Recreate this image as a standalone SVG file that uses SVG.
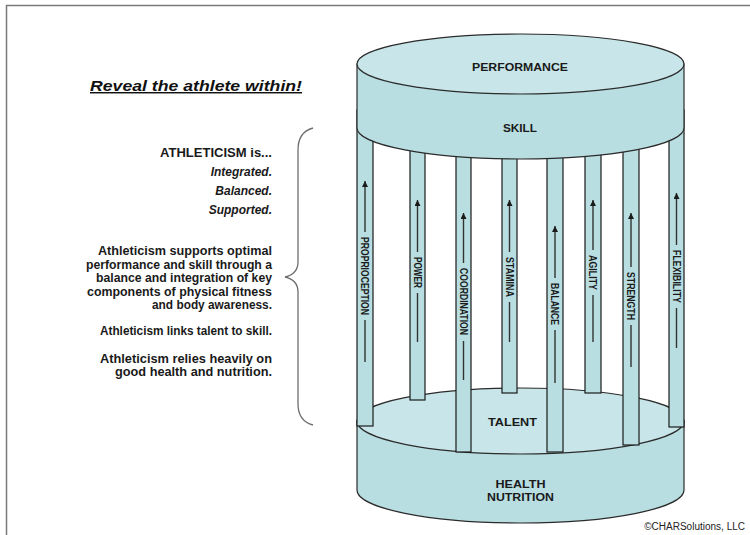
<svg xmlns="http://www.w3.org/2000/svg" width="750" height="535" viewBox="0 0 750 535">
<style>
.side{fill:#b9dee2;stroke:#2b2b2b;stroke-width:1.2}
.top{fill:#c8e6e9;stroke:#2b2b2b;stroke-width:1.2}
.pillar{fill:#b9dee2;stroke:#1a1a1a;stroke-width:1.2}
.lbl{font-family:"Liberation Sans",Arial,sans-serif;font-weight:bold;font-size:11.5px;fill:#1a1a1a;text-anchor:middle}
.plbl{font-family:"Liberation Sans",Arial,sans-serif;font-weight:bold;font-size:10.5px;fill:#1a1a1a;text-anchor:middle;dominant-baseline:central}
.arr{stroke:#333;stroke-width:1.4;fill:none}
.txt{font-family:"Liberation Sans",Arial,sans-serif;font-weight:bold;font-size:12px;fill:#1a1a1a;text-anchor:end}
.it{font-style:italic}
</style>
<defs>
<marker id="ah" viewBox="0 0 10 10" refX="10" refY="5" markerUnits="userSpaceOnUse" markerWidth="8" markerHeight="6" orient="auto">
<path d="M0,0 L10,5 L0,10 z" fill="#1a1a1a"/>
</marker>
</defs>
<rect x="6.5" y="5.5" width="800" height="600" fill="#ffffff" stroke="#7a7a7a" stroke-width="1.5"/>

<g id="base">
<path class="side" d="M357,421 L357,490 A163.5,33 0 0 0 684,490 L684,421 Z"/>
<text class="lbl" x="520.5" y="488" textLength="50" lengthAdjust="spacingAndGlyphs">HEALTH</text>
<text class="lbl" x="520.5" y="501" textLength="67" lengthAdjust="spacingAndGlyphs">NUTRITION</text>
</g>
<g id="talent">
<ellipse class="top" cx="520.5" cy="421" rx="163.5" ry="33"/>
<text class="lbl" x="512.5" y="426" textLength="49" lengthAdjust="spacingAndGlyphs">TALENT</text>
</g>

<g id="pillar-proprioception"><rect class="pillar" x="357" y="110" width="16" height="316"/><text class="plbl" transform="translate(365,276) rotate(90)" textLength="78" lengthAdjust="spacingAndGlyphs">PROPRIOCEPTION</text></g>
<g id="pillar-power"><rect class="pillar" x="410" y="110" width="15" height="290"/><text class="plbl" transform="translate(417.5,272.5) rotate(90)" textLength="31" lengthAdjust="spacingAndGlyphs">POWER</text></g>
<g id="pillar-coordination"><rect class="pillar" x="456" y="110" width="15" height="342"/><text class="plbl" transform="translate(463.5,301.5) rotate(90)" textLength="67" lengthAdjust="spacingAndGlyphs">COORDINATION</text></g>
<g id="pillar-stamina"><rect class="pillar" x="502" y="110" width="15" height="283"/><text class="plbl" transform="translate(509.5,277) rotate(90)" textLength="40" lengthAdjust="spacingAndGlyphs">STAMINA</text></g>
<g id="pillar-balance"><rect class="pillar" x="547" y="110" width="16" height="342"/><text class="plbl" transform="translate(555,304) rotate(90)" textLength="42" lengthAdjust="spacingAndGlyphs">BALANCE</text></g>
<g id="pillar-agility"><rect class="pillar" x="585" y="110" width="16" height="283"/><text class="plbl" transform="translate(593,272.5) rotate(90)" textLength="35" lengthAdjust="spacingAndGlyphs">AGILITY</text></g>
<g id="pillar-strength"><rect class="pillar" x="623" y="110" width="16" height="335"/><text class="plbl" transform="translate(631,296) rotate(90)" textLength="48" lengthAdjust="spacingAndGlyphs">STRENGTH</text></g>
<g id="pillar-flexibility"><rect class="pillar" x="669" y="110" width="15" height="317"/><text class="plbl" transform="translate(676.5,276.5) rotate(90)" textLength="53" lengthAdjust="spacingAndGlyphs">FLEXIBILITY</text></g>

<g id="connectors">
<line class="arr" x1="365" y1="232" x2="365" y2="181" marker-end="url(#ah)"/><line class="arr" x1="365" y1="320" x2="365" y2="362"/>
<line class="arr" x1="417.5" y1="252" x2="417.5" y2="200" marker-end="url(#ah)"/><line class="arr" x1="417.5" y1="293" x2="417.5" y2="342"/>
<line class="arr" x1="463.5" y1="263" x2="463.5" y2="213" marker-end="url(#ah)"/><line class="arr" x1="463.5" y1="341" x2="463.5" y2="380"/>
<line class="arr" x1="509.5" y1="252" x2="509.5" y2="200" marker-end="url(#ah)"/><line class="arr" x1="509.5" y1="302" x2="509.5" y2="342"/>
<line class="arr" x1="555" y1="278" x2="555" y2="226" marker-end="url(#ah)"/><line class="arr" x1="555" y1="330" x2="555" y2="383"/>
<line class="arr" x1="593" y1="250" x2="593" y2="200" marker-end="url(#ah)"/><line class="arr" x1="593" y1="295" x2="593" y2="342"/>
<line class="arr" x1="631" y1="267" x2="631" y2="213" marker-end="url(#ah)"/><line class="arr" x1="631" y1="325" x2="631" y2="367"/>
<line class="arr" x1="676.5" y1="245" x2="676.5" y2="193" marker-end="url(#ah)"/><line class="arr" x1="676.5" y1="308" x2="676.5" y2="348"/>
</g>

<g id="skill">
<path class="side" d="M357,64 L357,128 A163.5,31 0 0 0 684,128 L684,64 Z"/>
<text class="lbl" x="520" y="132" textLength="34" lengthAdjust="spacingAndGlyphs">SKILL</text>
</g>
<g id="performance">
<ellipse class="top" cx="520.5" cy="64" rx="163.5" ry="30"/>
<text class="lbl" x="520" y="71" textLength="96" lengthAdjust="spacingAndGlyphs">PERFORMANCE</text>
</g>

<g id="text-block">
<text x="196" y="91" font-family="'Liberation Sans',Arial,sans-serif" font-weight="bold" font-style="italic" font-size="14.5" fill="#111" text-anchor="middle" text-decoration="underline" textLength="212" lengthAdjust="spacingAndGlyphs">Reveal the athlete within!</text>
<text class="txt" x="272" y="157" textLength="112" lengthAdjust="spacingAndGlyphs">ATHLETICISM is...</text>
<text class="txt it" x="272" y="176">Integrated.</text>
<text class="txt it" x="272" y="195">Balanced.</text>
<text class="txt it" x="272" y="214">Supported.</text>
<text class="txt" x="272" y="255" textLength="174" lengthAdjust="spacingAndGlyphs">Athleticism supports optimal</text>
<text class="txt" x="272" y="268.5" textLength="186" lengthAdjust="spacingAndGlyphs">performance and skill through a</text>
<text class="txt" x="272" y="282" textLength="176" lengthAdjust="spacingAndGlyphs">balance and integration of key</text>
<text class="txt" x="272" y="295.5" textLength="185" lengthAdjust="spacingAndGlyphs">components of physical fitness</text>
<text class="txt" x="272" y="309" textLength="120" lengthAdjust="spacingAndGlyphs">and body awareness.</text>
<text class="txt" x="272" y="335" textLength="172" lengthAdjust="spacingAndGlyphs">Athleticism links talent to skill.</text>
<text class="txt" x="272" y="363" textLength="172" lengthAdjust="spacingAndGlyphs">Athleticism relies heavily on</text>
<text class="txt" x="272" y="376" textLength="157" lengthAdjust="spacingAndGlyphs">good health and nutrition.</text>
</g>

<g id="brace">
<path d="M313,128 Q298,132 298,150 L298,262 Q298,274 285,277 Q298,280 298,292 L298,404 Q298,421 313,425" fill="none" stroke="#6e6e6e" stroke-width="1.3"/>
</g>

<text x="745" y="530" font-family="'Liberation Sans',Arial,sans-serif" font-size="10" fill="#222" text-anchor="end">©CHARSolutions, LLC</text>
</svg>
